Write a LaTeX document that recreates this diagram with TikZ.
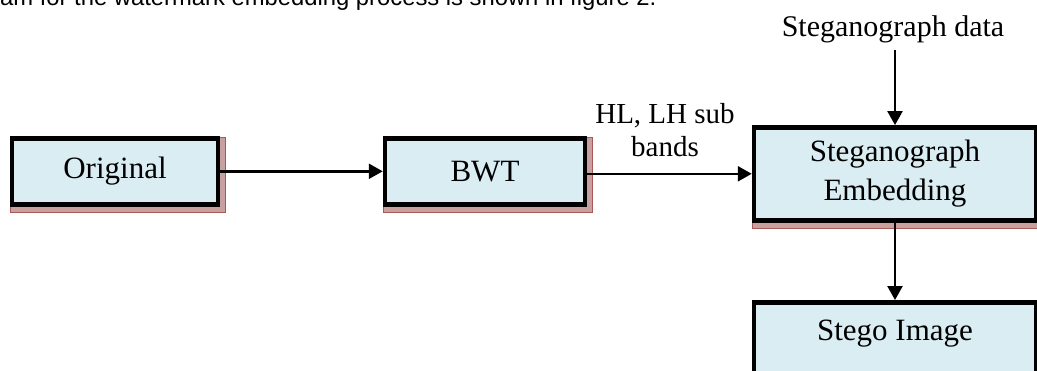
\documentclass[tikz,border=0pt]{standalone}
\usepackage{fontspec}
\setmainfont{Liberation Serif}
\newfontfamily\arialf{Liberation Sans}
\usetikzlibrary{arrows.meta,backgrounds}
\definecolor{boxfill}{RGB}{218,237,243}
\definecolor{shadowc}{RGB}{200,160,160}
\tikzset{
  blk/.style={draw=black, line width=4.5pt, fill=boxfill, align=center, inner sep=0pt,
    font=\fontsize{31}{36}\selectfont},
  shad/.style={fill=shadowc, draw=gray!70!red, line width=0.5pt},
  arr/.style={line width=2.4pt, -{Triangle[length=14pt,width=15pt]}},
  lbl/.style={font=\fontsize{30}{33}\selectfont, align=center, inner sep=0pt}
}
\newcommand{\boxshadow}[1]{%
  \begin{scope}[on background layer]
    \draw[shad] ([shift={(0.75pt,-5.25pt)}]#1.south west) rectangle ([shift={(5.25pt,-0.75pt)}]#1.north east);
  \end{scope}}
\begin{document}
\begin{tikzpicture}[x=1pt,y=-1pt]
\useasboundingbox (0,0) rectangle (1037,370);
\clip (0,0) rectangle (1037,370);
\node[anchor=base west, inner sep=0pt, font=\arialf\fontsize{23.8}{28}\selectfont] (cap) at (0,5.5) {am for the watermark embedding process is shown in figure 2.};
\node[blk, minimum width=206pt, minimum height=66pt] (orig) at (115,171.3) {Original};
\node[blk, minimum width=200pt, minimum height=66pt] (bwt) at (485,171.3) {BWT};
\node[blk, minimum width=282pt, minimum height=93pt] (emb) at (895,173.8) {Steganograph\\[3pt]Embedding};
\node[blk, minimum width=282pt, anchor=north, text height=38pt, text depth=60pt] (stego) at (895,300) {Stego Image};
\boxshadow{orig}
\boxshadow{bwt}
\boxshadow{emb}
\node[lbl, anchor=base] (data) at (893,36) {Steganograph data};
\coordinate (dtop) at (895,50);
\node[lbl, font=\fontsize{29}{33}\selectfont, anchor=base] (bands) at (665,156) {HL, LH sub\\bands};
\draw[arr] (orig) -- (bwt);
\draw[arr] (bwt.east |- emb.west) -- (emb.west);
\draw[arr] (dtop) -- (emb.north);
\draw[arr] (emb.south) -- (stego.north);
\end{tikzpicture}
\end{document}
